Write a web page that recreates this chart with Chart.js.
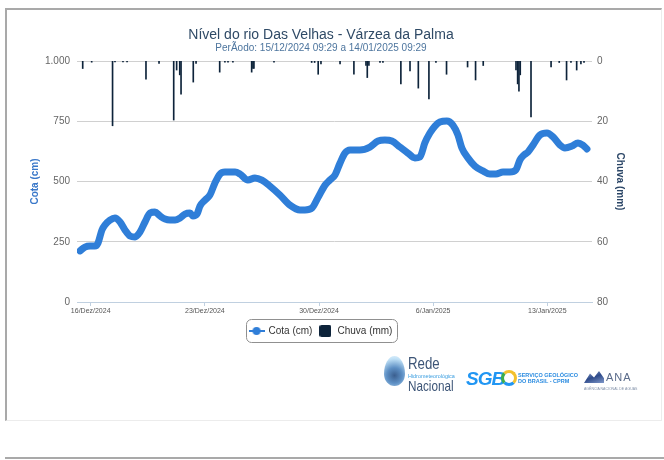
<!DOCTYPE html>
<html><head><meta charset="utf-8">
<script src="https://cdn.jsdelivr.net/npm/chart.js@4.4.1/dist/chart.umd.min.js"></script>
<style>
html,body{margin:0;padding:0;background:#fff;width:664px;height:460px;overflow:hidden;font-family:"Liberation Sans",Arial,sans-serif;}
#frame{position:absolute;left:5px;top:8px;width:654px;height:410px;border-top:2px solid #a9a9a9;border-left:2px solid #a9a9a9;border-right:1px solid #ececec;border-bottom:1px solid #ececec;}
#line2{position:absolute;left:5px;top:457px;width:659px;height:2px;background:#a9a9a9;}
#c{position:absolute;left:0;top:0;}
.t{position:absolute;white-space:nowrap;line-height:1;transform-origin:left top;}
#drop{position:absolute;left:384px;top:356px;width:21px;height:30px;border-radius:50% 50% 50% 50%/60% 60% 40% 40%;background:radial-gradient(circle at 50% 65%,#3b5f8f 0,#5d8fc4 35%,#bfe0f6 75%,#e8f5fd 100%);}
#ring{position:absolute;left:501px;top:370px;width:10px;height:10px;border-radius:50%;border:3px solid #f2c12e;border-left-color:#3fae49;border-bottom-color:#2196f3;}
#wave{position:absolute;left:584px;top:371px;width:20px;height:12px;background:linear-gradient(160deg,#9fb3d6 0,#2e4a8a 50%,#7f98c9 100%);clip-path:polygon(0 100%,30% 20%,50% 55%,75% 0,100% 60%,100% 100%);}
</style></head>
<body>
<div id="frame"></div>
<div id="line2"></div>
<canvas id="c" width="664" height="460"></canvas>
<div id="drop"></div>
<div class="t" style="left:408px;top:355px;font-size:17px;color:#3d5577;transform:scaleX(0.78)">Rede</div>
<div class="t" style="left:408px;top:373px;font-size:6px;color:#3b9ee0;transform:scaleX(0.9)">Hidrometeorológica</div>
<div class="t" style="left:408px;top:378px;font-size:15px;color:#3d5577;transform:scaleX(0.78)">Nacional</div>
<div class="t" style="left:466px;top:369px;font-size:19px;font-weight:bold;font-style:italic;color:#2196f3;letter-spacing:-1px">SGB</div>
<div id="ring"></div>
<div class="t" style="left:518px;top:373px;font-size:5.5px;font-weight:bold;color:#2a8be0">SERVIÇO GEOLÓGICO</div>
<div class="t" style="left:518px;top:379px;font-size:5.5px;font-weight:bold;color:#2a8be0">DO BRASIL - CPRM</div>
<div id="wave"></div>
<div class="t" style="left:606px;top:372px;font-size:11px;color:#5a6b8a;letter-spacing:1px">ANA</div>
<div class="t" style="left:584px;top:388px;font-size:3.5px;color:#8090a8">AGÊNCIA NACIONAL DE ÁGUAS</div>
<script>
// ---- data ----
const tituloTexto = 'Nível do rio Das Velhas - Várzea da Palma';
const subtituloTexto = 'PerÃodo: 15/12/2024 09:29 a 14/01/2025 09:29';
const tickDias = [0, 7, 14, 21, 28];
const tickRotulos = ['16/Dez/2024', '23/Dez/2024', '30/Dez/2024', '6/Jan/2025', '13/Jan/2025'];
// days since 16/Dez/2024 00:00
const cotaDias = [-0.66,-0.35,-0.04,0.26,0.45,0.69,0.88,1.18,1.49,1.80,2.10,2.41,2.72,3.02,3.33,3.64,3.94,4.25,4.56,4.86,5.17,5.48,5.78,6.09,6.27,6.52,6.70,7.01,7.31,7.62,7.93,8.23,8.85,9.15,9.64,10.07,10.50,10.99,11.60,12.22,12.83,13.14,13.57,13.93,14.37,14.67,14.98,15.29,15.59,15.90,16.51,17.12,17.62,18.04,18.47,18.96,19.45,19.88,20.19,20.49,20.80,21.11,21.41,21.84,22.21,22.52,22.76,23.13,23.56,24.05,24.48,24.85,25.28,25.71,26.07,26.32,26.57,26.81,27.12,27.55,27.98,28.35,28.78,29.08,29.51,29.88,30.18,30.43];
const cotaValores = [212,228,232,232,245,299,320,340,349,332,299,274,270,290,332,369,373,357,344,340,340,349,365,369,357,365,398,423,444,494,531,539,539,531,506,515,506,481,444,402,382,382,390,432,485,506,527,577,618,631,631,643,668,672,668,643,618,598,602,660,701,730,747,751,734,693,639,598,564,544,531,531,539,539,548,589,610,622,651,693,701,685,651,639,647,660,651,635];
const chuvaDias = [-0.49,0.06,1.34,1.49,1.98,2.23,3.39,4.19,5.09,5.27,5.46,5.54,6.29,6.46,7.91,8.23,8.42,8.72,9.87,9.95,10.01,11.24,13.55,13.73,13.95,14.12,15.29,16.14,16.88,16.96,17.06,17.74,17.92,19.02,19.58,20.09,20.74,21.17,21.82,23.11,23.60,24.07,26.08,26.18,26.26,26.34,27.00,28.23,28.73,29.18,29.45,29.80,30.06,30.25];
const chuvaValores = [2.5,0.4,21.5,0.3,0.3,0.3,6,0.8,19.6,3,4.6,11,7,0.8,3.7,0.4,0.4,0.4,3.7,2.5,2.5,0.4,0.5,0.5,4.4,1,1,4.4,1.5,5.5,1.5,0.5,0.5,7.6,3.3,9,12.6,0.5,4.4,2,6.3,1.5,3,7.6,10,4.6,18.6,2,0.5,6.3,0.5,3,1,0.5];

const corCota = '#2f7ed8';
const corChuva = '#0d233a';
const FONT = '"Liberation Sans", Arial, sans-serif';

function simboloCota(){const c=document.createElement('canvas');c.width=16;c.height=10;const g=c.getContext('2d');g.strokeStyle=corCota;g.lineWidth=2;g.beginPath();g.moveTo(0,5);g.lineTo(16,5);g.stroke();g.fillStyle=corCota;g.beginPath();g.arc(8,5,4,0,Math.PI*2);g.fill();return c;}
function simboloChuva(){const c=document.createElement('canvas');c.width=12;c.height=12;const g=c.getContext('2d');g.fillStyle=corChuva;g.beginPath();g.roundRect(0,0,12,12,2);g.fill();return c;}
const imgCota = simboloCota(), imgChuva = simboloChuva();

const legendBorder = {
  id:'legendBorder',
  afterDraw(chart){
    const hb = chart.legend && chart.legend.legendHitBoxes; if(!hb||!hb.length) return;
    let l=Infinity,r=-Infinity,t=Infinity,b=-Infinity;
    hb.forEach(h=>{l=Math.min(l,h.left);r=Math.max(r,h.left+h.width);t=Math.min(t,h.top);b=Math.max(b,h.top+h.height);});
    const ctx=chart.ctx; ctx.save(); ctx.strokeStyle='#909090'; ctx.lineWidth=1;
    ctx.beginPath(); ctx.roundRect(Math.round(l-4)+0.5,Math.round(t-7)+0.5,Math.round(r-l+8),Math.round(b-t+13),5); ctx.stroke(); ctx.restore();
  }
};

new Chart(document.getElementById('c'), {
  data: {
    datasets: [
      { type:'line', label:'Cota (cm)', data: cotaDias.map((d,i)=>({x:d,y:cotaValores[i]})), xAxisID:'x', yAxisID:'y',
        borderColor:corCota, backgroundColor:corCota, borderWidth:7, pointRadius:0, pointHoverRadius:0,
        cubicInterpolationMode:'monotone', borderCapStyle:'round', borderJoinStyle:'round', order:0 },
      { type:'bar', label:'Chuva (mm)', data: chuvaDias.map((d,i)=>({x:d,y:chuvaValores[i]})), xAxisID:'x', yAxisID:'y1',
        backgroundColor:corChuva, borderWidth:0, barThickness:1, order:1 }
    ]
  },
  options: {
    responsive:false, animation:false, devicePixelRatio:1,
    layout:{padding:{left:0,right:22,top:0,bottom:114}},
    plugins:{
      tooltip:{enabled:false},
      title:{display:true,text:tituloTexto,color:'#2f4a66',font:{family:FONT,size:14,weight:'normal',lineHeight:1},padding:{top:28.5,bottom:0}},
      subtitle:{display:true,text:subtituloTexto,color:'#4d759e',font:{family:FONT,size:10,lineHeight:1},padding:{top:0.5,bottom:8}},
      legend:{position:'bottom',labels:{
        usePointStyle:true,pointStyleWidth:14,padding:6,color:'#333333',font:{family:FONT,size:10},
        generateLabels:()=>[
          {text:'Cota (cm)',pointStyle:imgCota,fillStyle:corCota,strokeStyle:corCota,lineWidth:0,datasetIndex:0,fontColor:'#333333'},
          {text:'Chuva (mm)',pointStyle:imgChuva,fillStyle:corChuva,strokeStyle:corChuva,lineWidth:0,datasetIndex:1,fontColor:'#333333'}
        ]}}
    },
    scales:{
      x:{type:'linear',min:-0.84,max:30.74,offset:false,
        afterBuildTicks:s=>{s.ticks=tickDias.map(v=>({value:v}));},
        afterFit:s=>{s.height=18;},
        ticks:{callback:(v)=>{const i=tickDias.indexOf(v);return i>=0?tickRotulos[i]:'';},color:'#555555',font:{family:FONT,size:7},padding:1,maxRotation:0,autoSkip:false},
        grid:{offset:false,drawOnChartArea:false,drawTicks:true,tickLength:4,color:'#C0D0E0'},
        border:{color:'#C0D0E0'}},
      y:{position:'left',min:0,max:1000,
        afterFit:s=>{s.width=77;},
        ticks:{stepSize:250,padding:7,color:'#666666',font:{family:FONT,size:10},callback:v=>String(v).replace(/\B(?=(\d{3})+(?!\d))/g,'.')},
        grid:{color:'#d0d0d0',drawTicks:false},border:{display:false},
        title:{display:true,text:'Cota (cm)',color:'#3a78c9',font:{family:FONT,size:10,weight:'bold'},padding:{top:29,bottom:0}}},
      y1:{position:'right',min:0,max:80,reverse:true,
        afterFit:s=>{s.width=50;},
        ticks:{stepSize:20,padding:5,color:'#666666',font:{family:FONT,size:10}},
        grid:{display:false,drawTicks:false},border:{display:false},
        title:{display:true,text:'Chuva (mm)',color:'#2a4566',font:{family:FONT,size:10,weight:'bold'},padding:{top:16,bottom:0}}}
    }
  },
  plugins:[legendBorder]
});
</script>
</body></html>
